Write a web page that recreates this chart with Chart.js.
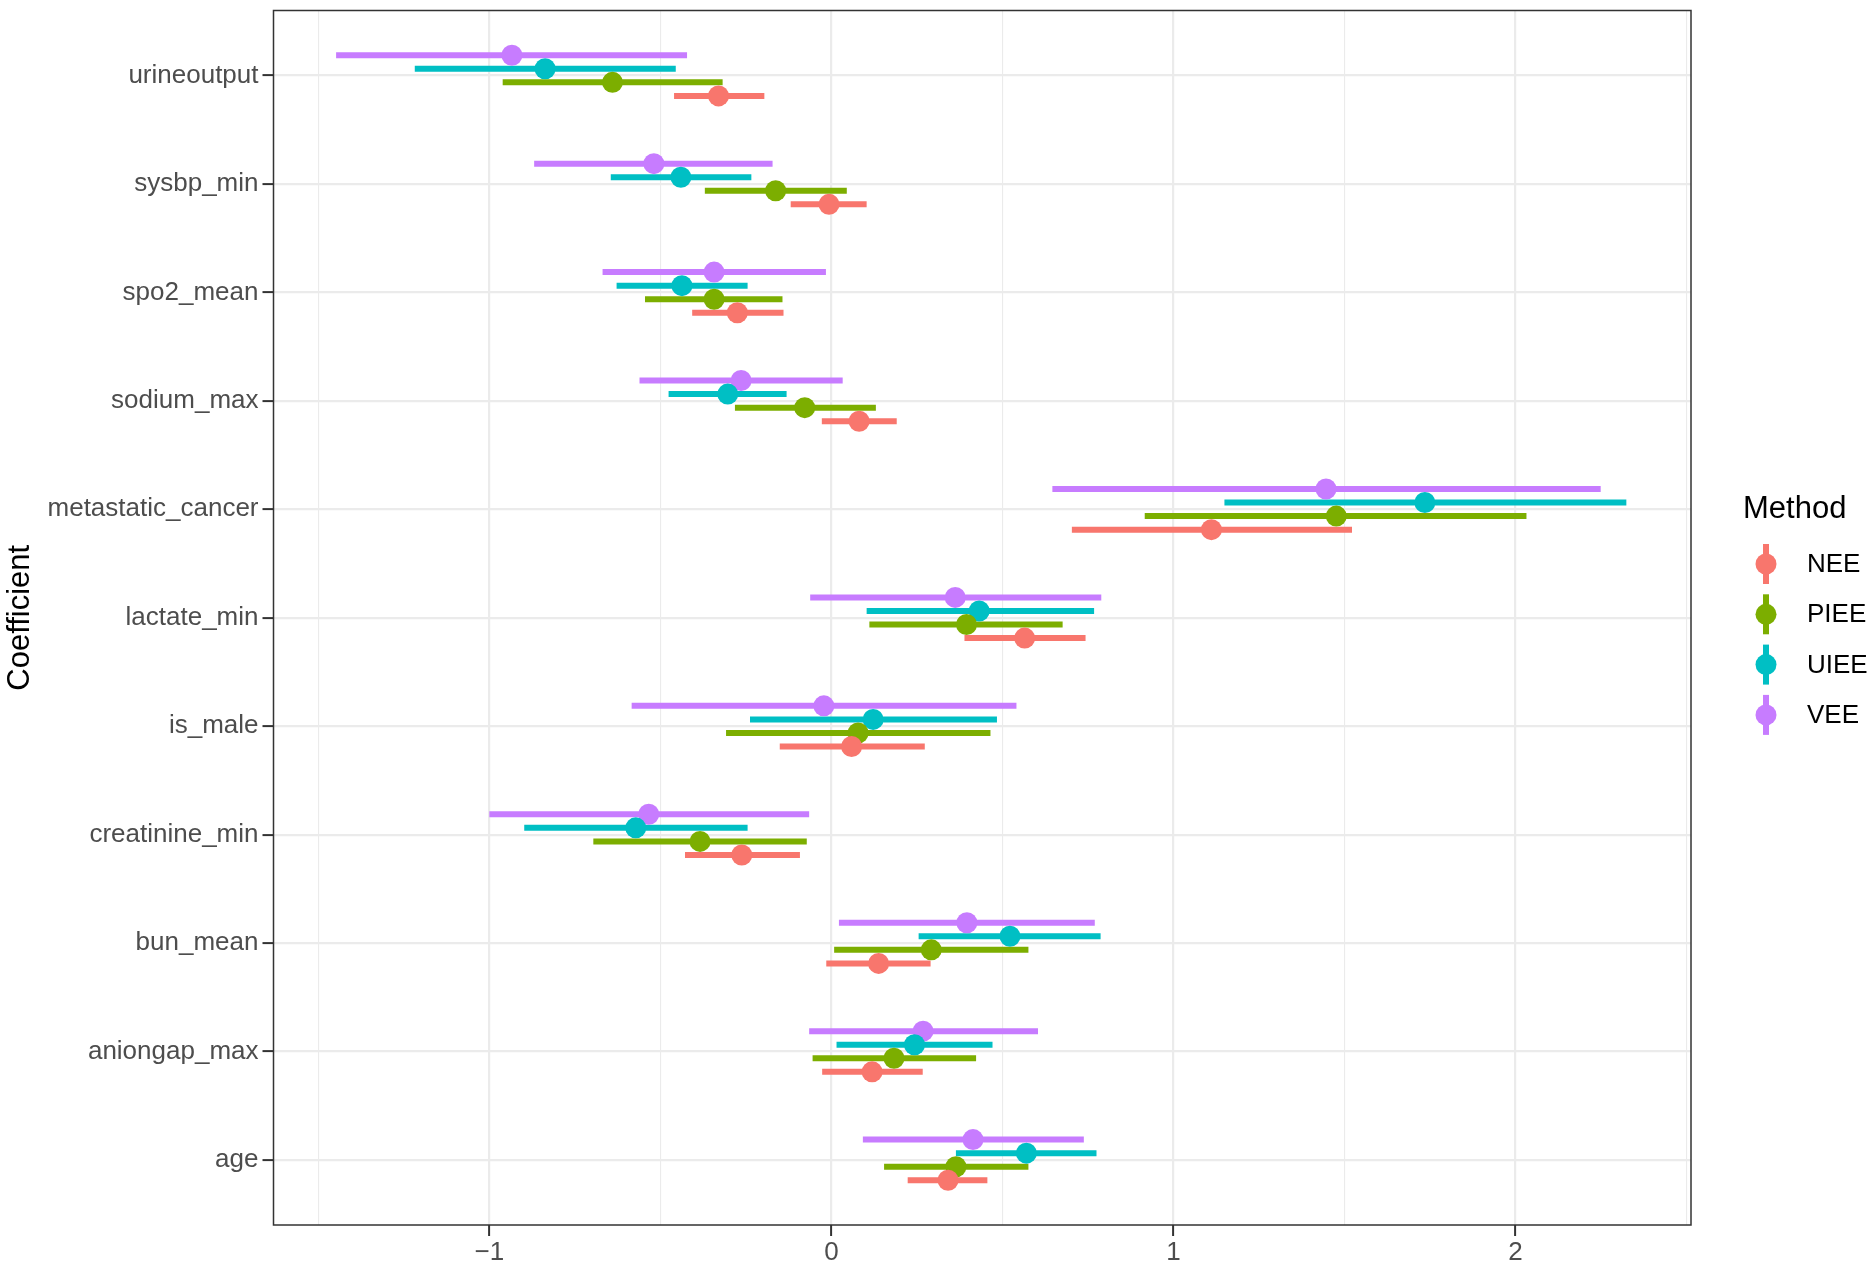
<!DOCTYPE html>
<html>
<head>
<meta charset="utf-8">
<title>Coefficient estimates by method</title>
<script src="https://cdn.jsdelivr.net/npm/chart.js@4.4.0/dist/chart.umd.min.js"></script>
<style>
  html, body { margin: 0; padding: 0; background: #fff; }
  #wrap { width: 1873px; height: 1267px; }
</style>
</head>
<body>
<div id="wrap"><canvas id="coef-chart" width="1873" height="1267"></canvas></div>
<script>
// coefficients, bottom to top (first factor level sits at the bottom)
const coefficients = ['age', 'aniongap_max', 'bun_mean', 'creatinine_min', 'is_male', 'lactate_min',
    'metastatic_cancer', 'sodium_max', 'spo2_mean', 'sysbp_min', 'urineoutput'];

const methods = ['NEE', 'PIEE', 'UIEE', 'VEE'];
const methodColors = ['#F8766D', '#7CAE00', '#00BFC4', '#C77CFF'];

// point estimates and interval ends, same order as coefficients
const neeEst = [0.341, 0.119, 0.138, -0.262, 0.059, 0.565, 1.111, 0.081, -0.275, -0.007, -0.330];
const neeLo  = [0.223, -0.027, -0.015, -0.428, -0.151, 0.389, 0.703, -0.028, -0.407, -0.119, -0.460];
const neeHi  = [0.456, 0.267, 0.290, -0.092, 0.273, 0.743, 1.522, 0.191, -0.140, 0.103, -0.196];

const pieeEst = [0.364, 0.183, 0.292, -0.384, 0.078, 0.395, 1.476, -0.078, -0.343, -0.163, -0.640];
const pieeLo  = [0.154, -0.055, 0.008, -0.696, -0.308, 0.111, 0.916, -0.282, -0.545, -0.370, -0.961];
const pieeHi  = [0.576, 0.423, 0.576, -0.072, 0.465, 0.676, 2.032, 0.130, -0.143, 0.045, -0.318];

const uieeEst = [0.570, 0.243, 0.522, -0.572, 0.122, 0.432, 1.735, -0.303, -0.437, -0.440, -0.837];
const uieeLo  = [0.364, 0.015, 0.255, -0.898, -0.238, 0.103, 1.149, -0.476, -0.628, -0.645, -1.218];
const uieeHi  = [0.775, 0.471, 0.787, -0.245, 0.484, 0.768, 2.324, -0.131, -0.245, -0.234, -0.455];

const veeEst = [0.414, 0.268, 0.396, -0.534, -0.022, 0.362, 1.446, -0.264, -0.343, -0.519, -0.934];
const veeLo  = [0.092, -0.065, 0.022, -1.000, -0.584, -0.062, 0.646, -0.561, -0.669, -0.869, -1.448];
const veeHi  = [0.738, 0.604, 0.770, -0.065, 0.541, 0.789, 2.249, 0.033, -0.016, -0.172, -0.422];

// x axis ticks
const xMajorTicks = [-1, 0, 1, 2];
const xMinorTicks = [-1.5, -0.5, 0.5, 1.5, 2.5];

const estimates = [neeEst, pieeEst, uieeEst, veeEst];
const lowers = [neeLo, pieeLo, uieeLo, veeLo];
const uppers = [neeHi, pieeHi, uieeHi, veeHi];

const dodgeWidth = 0.5;
const textFont = '"Liberation Sans", Arial, Helvetica, sans-serif';

function dodge(m) {
    return (m - (methods.length - 1) / 2) * dodgeWidth / methods.length;
}

const datasets = [];
methods.forEach((name, m) => {
    // interval segments, broken by empty points
    const seg = [];
    coefficients.forEach((c, i) => {
        seg.push({ x: lowers[m][i], y: i + dodge(m) });
        seg.push({ x: uppers[m][i], y: i + dodge(m) });
        seg.push({ x: null, y: null });
    });
    datasets.push({
        type: 'line',
        label: name + ' interval',
        data: seg,
        borderColor: methodColors[m],
        borderWidth: 6,
        borderCapStyle: 'butt',
        pointRadius: 0,
        spanGaps: false,
        tension: 0,
        fill: false,
        order: 2
    });
    datasets.push({
        type: 'scatter',
        label: name,
        data: coefficients.map((c, i) => ({ x: estimates[m][i], y: i + dodge(m) })),
        backgroundColor: methodColors[m],
        borderWidth: 0,
        pointRadius: 10.5,
        order: 1
    });
});

// panel border on top of the data, like ggplot
const panelBorder = {
    id: 'panelBorder',
    afterDatasetsDraw(chart) {
        const a = chart.chartArea, ctx = chart.ctx;
        ctx.save();
        ctx.strokeStyle = '#333333';
        ctx.lineWidth = 1.5;
        ctx.strokeRect(a.left, a.top, a.right - a.left, a.bottom - a.top);
        ctx.restore();
    }
};

// legend: "Method" with pointrange keys
const methodLegend = {
    id: 'methodLegend',
    afterDraw(chart) {
        const ctx = chart.ctx;
        ctx.save();
        ctx.fillStyle = '#000';
        ctx.font = '31px ' + textFont;
        ctx.textBaseline = 'alphabetic';
        ctx.textAlign = 'left';
        ctx.fillText('Method', 1743, 518);
        ctx.font = '26px ' + textFont;
        ctx.textBaseline = 'middle';
        methods.forEach((name, m) => {
            const y = 564 + m * 50.3;
            ctx.strokeStyle = methodColors[m];
            ctx.lineWidth = 6;
            ctx.beginPath();
            ctx.moveTo(1766, y - 20);
            ctx.lineTo(1766, y + 20);
            ctx.stroke();
            ctx.fillStyle = methodColors[m];
            ctx.beginPath();
            ctx.arc(1766, y, 10.5, 0, Math.PI * 2);
            ctx.fill();
            ctx.fillStyle = '#000';
            ctx.fillText(name, 1807, y + 1);
        });
        ctx.restore();
    }
};

new Chart(document.getElementById('coef-chart'), {
    type: 'scatter',
    data: { datasets: datasets },
    plugins: [panelBorder, methodLegend],
    options: {
        responsive: false,
        animation: false,
        events: [],
        layout: { padding: { top: 7, right: 182, bottom: 0, left: 0 } },
        plugins: {
            legend: { display: false },
            tooltip: { enabled: false }
        },
        scales: {
            x: {
                type: 'linear',
                min: -1.631,
                max: 2.513,
                afterBuildTicks(scale) {
                    scale.ticks = xMinorTicks.concat(xMajorTicks)
                        .sort((a, b) => a - b)
                        .map(v => ({ value: v }));
                },
                afterFit(scale) {
                    scale.height = 42;
                    scale.paddingLeft = 0;
                    scale.paddingRight = 0;
                },
                border: { display: false },
                grid: {
                    color: '#EBEBEB',
                    lineWidth: ctx => xMajorTicks.includes(ctx.tick.value) ? 2.2 : 1.1,
                    tickColor: ctx => xMajorTicks.includes(ctx.tick.value) ? '#333333' : 'rgba(0,0,0,0)',
                    tickWidth: 2,
                    tickLength: 11
                },
                ticks: {
                    autoSkip: false,
                    maxRotation: 0,
                    padding: 1,
                    color: '#4D4D4D',
                    font: { family: textFont, size: 26 },
                    callback: v => xMajorTicks.includes(v) ? (v < 0 ? '\u2212' + Math.abs(v) : String(v)) : ''
                }
            },
            y: {
                type: 'linear',
                min: -0.6,
                max: coefficients.length - 0.4,
                afterBuildTicks(scale) {
                    scale.ticks = coefficients.map((c, i) => ({ value: i }));
                },
                afterFit(scale) {
                    scale.width = 273.5;
                    scale.paddingTop = 0;
                    scale.paddingBottom = 0;
                },
                border: { display: false },
                grid: {
                    color: '#EBEBEB',
                    lineWidth: 2.2,
                    tickColor: '#333333',
                    tickWidth: 2,
                    tickLength: 11
                },
                ticks: {
                    autoSkip: false,
                    padding: 4,
                    color: '#4D4D4D',
                    font: { family: textFont, size: 26 },
                    callback: v => coefficients[v]
                },
                title: {
                    display: true,
                    text: 'Coefficient',
                    color: '#000',
                    font: { family: textFont, size: 31 },
                    padding: { top: 2, bottom: 0 }
                }
            }
        }
    }
});
</script>
</body>
</html>
